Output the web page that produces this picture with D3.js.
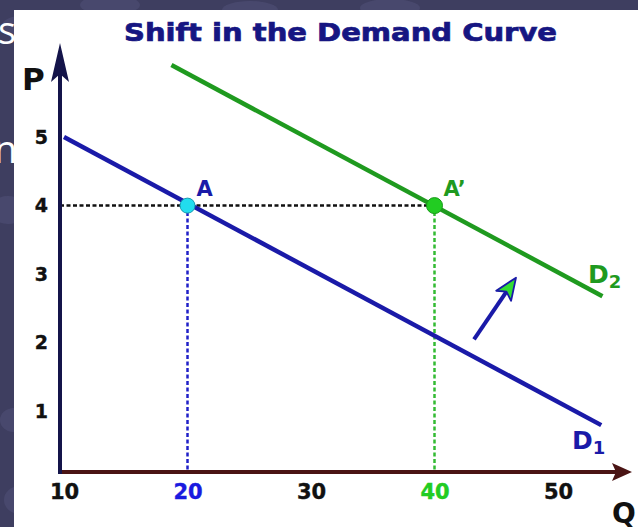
<!DOCTYPE html>
<html><head><meta charset="utf-8">
<script src="https://cdn.jsdelivr.net/npm/d3@7"></script>
<style>html,body{margin:0;padding:0;background:#3e3e60;}svg{display:block;}</style>
</head><body>
<script>
// Data
const title = "Shift in the Demand Curve";
const xTicks = [10, 20, 30, 40, 50];
const xTickColors = ["#111", "#1a1ae0", "#111", "#22cc22", "#111"];
const yTicks = [1, 2, 3, 4, 5];
const d1 = [[10, 5], [53.5, 0.8]];
const d2 = [[18.7, 6.05], [53.6, 2.68]];
const pointA = {name: "A", x: 20, y: 4};
const pointA2 = {name: "A’", x: 40, y: 4};
const shiftArrow = [[43.2, 2.05], [46.6, 2.95]];

const W = 638, H = 527;
const svg = d3.select("body").append("svg").attr("width", W).attr("height", H);

// slide background
svg.append("rect").attr("width", W).attr("height", H).attr("fill", "#3e3e60");
const bub = [[20,26,18,10],[110,5,30,10],[250,10,28,9],[390,8,30,9],[470,20,22,8],[8,210,18,14],[20,500,16,14],[14,420,14,12]];
bub.forEach(b => svg.append("ellipse").attr("cx", b[0]).attr("cy", b[1]).attr("rx", b[2]).attr("ry", b[3]).attr("fill", "#4b4b70").attr("opacity", 0.8));
svg.append("text").attr("x", -2).attr("y", 44).attr("fill", "#fff").attr("font-family", "Open Sans, sans-serif").attr("font-size", 38).text("s");
svg.append("text").attr("x", -6).attr("y", 163).attr("fill", "#fff").attr("font-family", "Open Sans, sans-serif").attr("font-size", 38).text("n");
// white panel
svg.append("rect").attr("x", 14).attr("y", 10).attr("width", W - 14).attr("height", H - 10).attr("fill", "#fff");

const x = d3.scaleLinear().domain([10, 50]).range([64, 558]);
const y = d3.scaleLinear().domain([0, 5]).range([480, 137]);
const axX = 60, axY = 472;
const FF = "DejaVu Sans, Verdana, sans-serif";

// title
svg.append("text").attr("x", 124).attr("y", 41)
  .attr("font-family", FF).attr("font-weight", "bold")
  .attr("font-size", 24).attr("fill", "#161682").attr("stroke", "#161682").attr("stroke-width", 0.7)
  .attr("textLength", 433).attr("lengthAdjust", "spacingAndGlyphs").text(title);

// guides
svg.append("line").attr("x1", axX).attr("x2", x(pointA2.x)).attr("y1", y(4)).attr("y2", y(4))
  .attr("stroke", "#111").attr("stroke-width", 2.5).attr("stroke-dasharray", "4,2.5");
svg.append("line").attr("x1", x(pointA.x)).attr("x2", x(pointA.x)).attr("y1", y(pointA.y)).attr("y2", axY)
  .attr("stroke", "#2020c8").attr("stroke-width", 2.5).attr("stroke-dasharray", "4,2.5");
svg.append("line").attr("x1", x(pointA2.x)).attr("x2", x(pointA2.x)).attr("y1", y(pointA2.y)).attr("y2", axY)
  .attr("stroke", "#33bb33").attr("stroke-width", 2.5).attr("stroke-dasharray", "4,2.5");

const line = d3.line().x(d => x(d[0])).y(d => y(d[1]));
svg.append("path").attr("d", line(d1)).attr("stroke", "#1a1aa8").attr("stroke-width", 4.5).attr("fill", "none");
svg.append("path").attr("d", line(d2)).attr("stroke", "#1f9a1f").attr("stroke-width", 4.5).attr("fill", "none");

// axes
const gy = svg.append("g").attr("transform", `translate(${axX},0)`);
gy.call(d3.axisLeft(y).tickValues(yTicks).tickSize(0).tickFormat(d3.format("d")));
gy.select(".domain").remove();
gy.selectAll("text").attr("x", -12).attr("font-family", FF).attr("font-weight", "bold")
  .attr("font-size", 19).attr("fill", "#111").attr("stroke", "#111").attr("stroke-width", 0.4);
const gx = svg.append("g").attr("transform", `translate(0,${axY})`);
gx.call(d3.axisBottom(x).tickValues(xTicks).tickSize(0).tickFormat(d3.format("d")));
gx.select(".domain").remove();
gx.selectAll("text").attr("y", 12).attr("font-family", FF).attr("font-weight", "bold")
  .attr("font-size", 21).attr("fill", (d, i) => xTickColors[i]).attr("stroke", (d, i) => xTickColors[i]).attr("stroke-width", 0.4);

svg.append("line").attr("x1", axX).attr("x2", 618).attr("y1", axY).attr("y2", axY).attr("stroke", "#4a1414").attr("stroke-width", 4);
svg.append("path").attr("d", `M632,${axY} L612,${axY - 9} L616,${axY} L612,${axY + 9} Z`).attr("fill", "#4a1414");
svg.append("line").attr("x1", axX).attr("x2", axX).attr("y1", axY + 2).attr("y2", 70).attr("stroke", "#14144a").attr("stroke-width", 4);
svg.append("path").attr("d", `M${axX},43 L${axX + 9},82 L${axX},74 L${axX - 9},82 Z`).attr("fill", "#14144a");

svg.append("text").attr("x", 22).attr("y", 90).attr("font-family", FF).attr("font-weight", "bold")
  .attr("font-size", 31).attr("fill", "#111").text("P");
svg.append("text").attr("x", 612).attr("y", 523).attr("font-family", FF).attr("font-weight", "bold")
  .attr("font-size", 28).attr("fill", "#111").text("Q");

// points
svg.append("circle").attr("cx", x(pointA.x)).attr("cy", y(pointA.y)).attr("r", 7.5).attr("fill", "#22ddee").attr("stroke", "#1a9ab0").attr("stroke-width", 1);
svg.append("circle").attr("cx", x(pointA2.x)).attr("cy", y(pointA2.y)).attr("r", 8).attr("fill", "#22cc22").attr("stroke", "#1a9a1a").attr("stroke-width", 1);
svg.append("text").attr("x", x(pointA.x) + 9).attr("y", y(pointA.y) - 10).attr("font-family", FF)
  .attr("font-weight", "bold").attr("font-size", 21).attr("fill", "#1a1aa8").text(pointA.name);
svg.append("text").attr("x", x(pointA2.x) + 9).attr("y", y(pointA2.y) - 10).attr("font-family", FF)
  .attr("font-weight", "bold").attr("font-size", 21).attr("fill", "#1f9a1f").text(pointA2.name);

// curve labels
const lab1 = svg.append("text").attr("x", 572).attr("y", 449).attr("font-family", FF)
  .attr("font-weight", "bold").attr("font-size", 25).attr("fill", "#1a1aa8");
lab1.append("tspan").text("D");
lab1.append("tspan").attr("font-size", 18).attr("dy", 5).text("1");
const lab2 = svg.append("text").attr("x", 588).attr("y", 283).attr("font-family", FF)
  .attr("font-weight", "bold").attr("font-size", 25).attr("fill", "#1f9a1f");
lab2.append("tspan").text("D");
lab2.append("tspan").attr("font-size", 18).attr("dy", 5).text("2");

// shift arrow
const [p0, p1] = shiftArrow.map(d => [x(d[0]), y(d[1])]);
const ang = Math.atan2(p1[1] - p0[1], p1[0] - p0[0]);
const hl = 22, hw = 9;
const bx = p1[0] - hl * Math.cos(ang), by = p1[1] - hl * Math.sin(ang);
svg.append("line").attr("x1", p0[0]).attr("y1", p0[1]).attr("x2", bx + 6 * Math.cos(ang)).attr("y2", by + 6 * Math.sin(ang))
  .attr("stroke", "#1a1aa8").attr("stroke-width", 4);
const nx = -Math.sin(ang), ny = Math.cos(ang);
svg.append("path").attr("d", `M${p1[0]},${p1[1]} L${bx + hw * nx},${by + hw * ny} L${bx + 5 * Math.cos(ang)},${by + 5 * Math.sin(ang)} L${bx - hw * nx},${by - hw * ny} Z`)
  .attr("fill", "#33dd33").attr("stroke", "#1a1aa8").attr("stroke-width", 1.8).attr("stroke-linejoin", "round");
</script>
</body></html>
